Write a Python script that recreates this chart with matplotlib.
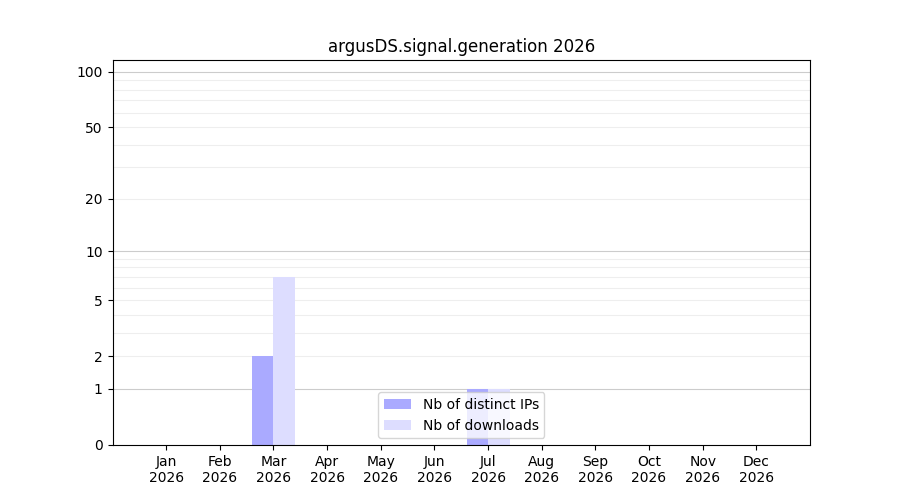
import numpy as np
import matplotlib.pyplot as plt

months = ['Jan', 'Feb', 'Mar', 'Apr', 'May', 'Jun', 'Jul', 'Aug', 'Sep', 'Oct', 'Nov', 'Dec']
year = '2026'
distinct_ips = [0, 0, 2, 0, 0, 0, 1, 0, 0, 0, 0, 0]
downloads = [0, 0, 7, 0, 0, 0, 1, 0, 0, 0, 0, 0]
major_ticks = [0, 1, 2, 5, 10, 20, 50, 100]

fig, ax = plt.subplots(figsize=(9, 5), dpi=100)
ax.set_yscale('function', functions=(lambda v: np.log10(np.maximum(v, 0) + 1),
                                     lambda v: 10 ** v - 1))
x = np.arange(len(months))
w = 0.4
ax.bar(x - w / 2, distinct_ips, w, color='#aaaaff', label='Nb of distinct IPs', zorder=2)
ax.bar(x + w / 2, downloads, w, color='#ddddff', label='Nb of downloads', zorder=2)

ax.set_ylim(0, 116)
ax.set_xlim(-1, 12)
ax.set_yticks(major_ticks)
ax.set_yticklabels([str(t) for t in major_ticks])
minor = [3, 4, 6, 7, 8, 9, 30, 40, 60, 70, 80, 90]
ax.set_yticks(minor, minor=True)
ax.tick_params(axis='y', which='minor', length=0)
for t in [2, 5, 20, 50] + minor:
    ax.axhline(t, color='#eeeeee', lw=0.8, zorder=0)
for t in [1, 10, 100]:
    ax.axhline(t, color='#cccccc', lw=0.8, zorder=0)

ax.set_xticks(x)
ax.set_xticklabels([m + '\n' + year for m in months])
ax.set_title('argusDS.signal.generation 2026')
ax.legend(loc='lower center')
fig.savefig('out.png')
